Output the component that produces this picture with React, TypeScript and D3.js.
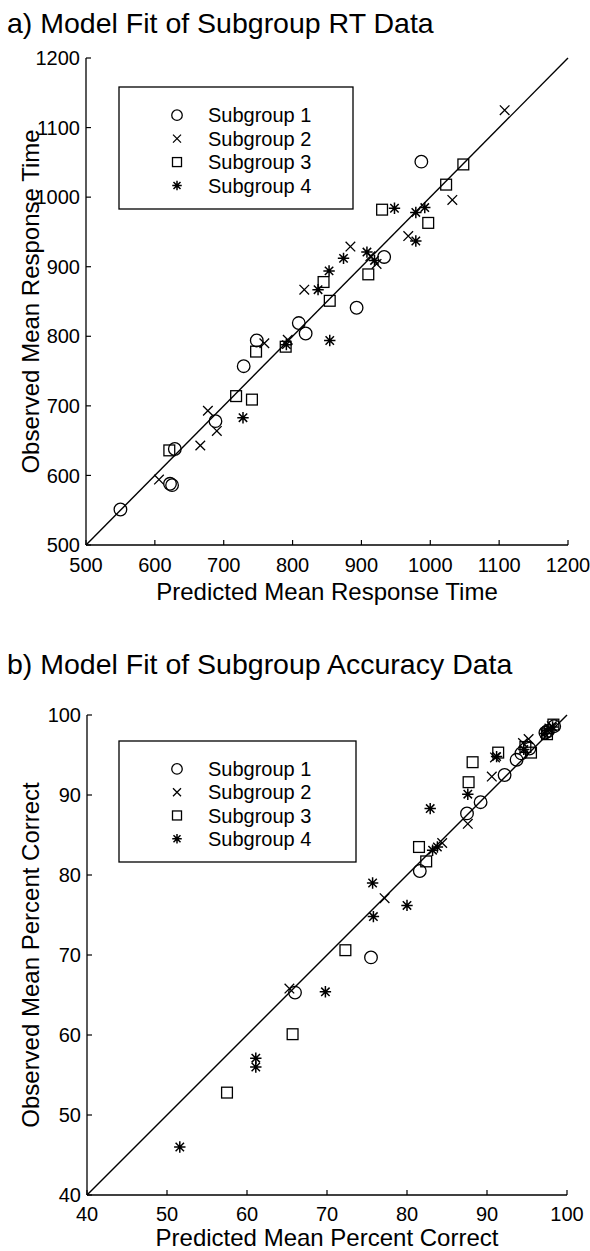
import React from "react";
import * as d3 from "d3";

type Pt = [number, number];

const subgroupNames = ["Subgroup 1", "Subgroup 2", "Subgroup 3", "Subgroup 4"];
const markerKinds = ["circle", "x", "square", "star"];

// ---- Panel a: RT data (predicted, observed)
const rtTicks = [500, 600, 700, 800, 900, 1000, 1100, 1200];
const rtSub1: Pt[] = [
  [550, 551], [622, 588], [625, 586], [629, 638], [688, 678], [729, 757],
  [748, 794], [809, 819], [819, 804], [893, 841], [933, 914], [987, 1051],
];
const rtSub2: Pt[] = [
  [606, 594], [666, 643], [677, 693], [690, 664], [759, 790], [793, 795],
  [817, 867], [884, 929], [913, 915], [922, 904], [968, 944], [1032, 996], [1108, 1125],
];
const rtSub3: Pt[] = [
  [621, 636], [718, 714], [741, 709], [747, 778], [790, 785], [845, 878],
  [854, 851], [910, 889], [930, 982], [997, 963], [1023, 1018], [1048, 1047],
];
const rtSub4: Pt[] = [
  [728, 683], [791, 788], [837, 867], [853, 894], [854, 794], [874, 912],
  [908, 921], [919, 909], [948, 984], [979, 978], [979, 937], [992, 985],
];

// ---- Panel b: accuracy data (predicted, observed)
const accTicks = [40, 50, 60, 70, 80, 90, 100];
const accSub1: Pt[] = [
  [66, 65.3], [75.5, 69.7], [81.6, 80.5], [87.5, 87.7], [89.2, 89.1], [92.2, 92.5],
  [93.7, 94.4], [94.3, 95.2], [95.3, 95.8], [97.3, 97.8], [97.6, 98.0], [98.4, 98.6],
];
const accSub2: Pt[] = [
  [65.3, 65.8], [77.2, 77.1], [84.4, 84.0], [87.6, 86.4], [90.6, 92.3], [91.0, 94.7],
  [94.5, 96.5], [95.2, 97.0], [97.8, 98.3], [98.1, 98.6],
];
const accSub3: Pt[] = [
  [57.5, 52.8], [65.7, 60.1], [72.3, 70.6], [81.5, 83.5], [82.4, 81.7], [87.7, 91.6],
  [88.2, 94.1], [91.4, 95.3], [94.8, 96.0], [95.5, 95.3], [97.5, 97.6], [98.3, 98.8],
];
const accSub4: Pt[] = [
  [51.6, 46.0], [61.1, 57.1], [61.1, 56.0], [69.8, 65.4], [75.7, 79.0], [75.8, 74.8],
  [80.0, 76.2], [82.9, 88.3], [83.2, 83.1], [83.8, 83.5], [87.6, 90.1], [91.2, 94.8],
  [94.6, 95.7], [97.2, 97.7], [97.5, 98.1], [98.2, 98.5],
];

const FONT = "'Liberation Sans', Arial, Helvetica, sans-serif";

function Marker({ kind, x, y, s }: { kind: string; x: number; y: number; s: number }) {
  const common = { fill: "none", stroke: "#000", strokeWidth: 1.3 };
  if (kind === "circle") return <circle cx={x} cy={y} r={s * 1.05} {...common} />;
  if (kind === "square")
    return <rect x={x - s * 0.9} y={y - s * 0.9} width={s * 1.8} height={s * 1.8} {...common} />;
  if (kind === "x") {
    const h = s * 0.8;
    return (
      <path d={`M${x - h},${y - h}L${x + h},${y + h}M${x - h},${y + h}L${x + h},${y - h}`} {...common} />
    );
  }
  const h = s * 0.95;
  const d = s * 0.7;
  return (
    <path
      d={`M${x},${y - h}L${x},${y + h}M${x - h},${y}L${x + h},${y}M${x - d},${y - d}L${x + d},${y + d}M${x - d},${y + d}L${x + d},${y - d}`}
      {...common}
      strokeWidth={1.5}
    />
  );
}

interface PanelProps {
  title: string;
  titleY: number;
  domain: [number, number];
  ticks: number[];
  left: number;
  right: number;
  top: number;
  bottom: number;
  series: Pt[][];
  xLabel: string;
  yLabel: string;
  tickOff: number;
  labelOff: number;
  legend: { x0: number; y0: number; x1: number; y1: number };
}

function Panel(p: PanelProps) {
  const x = d3.scaleLinear().domain(p.domain).range([p.left, p.right]);
  const y = d3.scaleLinear().domain(p.domain).range([p.bottom, p.top]);
  const diag = d3.line<number>().x((v) => x(v)).y((v) => y(v))(p.domain as number[]) || "";
  const L = p.legend;
  const rowH = (L.y1 - L.y0) / 5.2;
  return (
    <g fontFamily={FONT} fill="#000">
      <text x={7} y={p.titleY} fontSize={28.5}>{p.title}</text>
      {/* axes */}
      <line x1={p.left} x2={p.left} y1={p.top} y2={p.bottom} stroke="#000" strokeWidth={1.3} />
      <line x1={p.left} x2={p.right} y1={p.bottom} y2={p.bottom} stroke="#000" strokeWidth={1.3} />
      {p.ticks.map((t) => (
        <g key={"yt" + t}>
          <line x1={p.left} x2={p.left + 5} y1={y(t)} y2={y(t)} stroke="#000" strokeWidth={1.2} />
          <text x={p.left - 6} y={y(t)} dy="0.36em" textAnchor="end" fontSize={20}>{t}</text>
        </g>
      ))}
      {p.ticks.map((t) => (
        <g key={"xt" + t}>
          <line x1={x(t)} x2={x(t)} y1={p.bottom} y2={p.bottom - 5} stroke="#000" strokeWidth={1.2} />
          <text x={x(t)} y={p.bottom + p.tickOff} textAnchor="middle" fontSize={20}>{t}</text>
        </g>
      ))}
      <text x={(p.left + p.right) / 2} y={p.bottom + p.labelOff} textAnchor="middle" fontSize={24}>{p.xLabel}</text>
      <text
        transform={`translate(39,${(p.top + p.bottom) / 2}) rotate(-90)`}
        textAnchor="middle"
        fontSize={24}
      >
        {p.yLabel}
      </text>
      {/* diagonal */}
      <path d={diag} stroke="#000" strokeWidth={1.4} fill="none" />
      {/* points */}
      {p.series.map((pts, i) =>
        pts.map((d, j) => <Marker key={i + "-" + j} kind={markerKinds[i]} x={x(d[0])} y={y(d[1])} s={6} />)
      )}
      {/* legend */}
      <rect x={L.x0} y={L.y0} width={L.x1 - L.x0} height={L.y1 - L.y0} fill="#fff" stroke="#000" strokeWidth={1.3} />
      {subgroupNames.map((n, i) => {
        const cy = L.y0 + rowH * (1.2 + i);
        return (
          <g key={n}>
            <Marker kind={markerKinds[i]} x={L.x0 + 58} y={cy} s={5} />
            <text x={L.x0 + 89} y={cy} dy="0.36em" fontSize={20}>{n}</text>
          </g>
        );
      })}
    </g>
  );
}

export default function App() {
  return (
    <svg
      width={590}
      height={1251}
      style={{ position: "absolute", left: 0, top: 0, background: "#fff" }}
    >
      <rect width={590} height={1251} fill="#fff" />
      <Panel
        title="a) Model Fit of Subgroup RT Data"
        titleY={33}
        domain={[500, 1200]}
        ticks={rtTicks}
        left={86}
        right={568}
        top={58}
        bottom={545}
        series={[rtSub1, rtSub2, rtSub3, rtSub4]}
        xLabel="Predicted Mean Response Time"
        yLabel="Observed Mean Response Time"
        tickOff={27}
        labelOff={55}
        legend={{ x0: 119, y0: 87, x1: 353, y1: 209 }}
      />
      <Panel
        title="b) Model Fit of Subgroup Accuracy Data"
        titleY={674}
        domain={[40, 100]}
        ticks={accTicks}
        left={87}
        right={567}
        top={715}
        bottom={1195}
        series={[accSub1, accSub2, accSub3, accSub4]}
        xLabel="Predicted Mean Percent Correct"
        yLabel="Observed Mean Percent Correct"
        tickOff={26}
        labelOff={51}
        legend={{ x0: 119, y0: 741, x1: 356, y1: 862 }}
      />
    </svg>
  );
}
